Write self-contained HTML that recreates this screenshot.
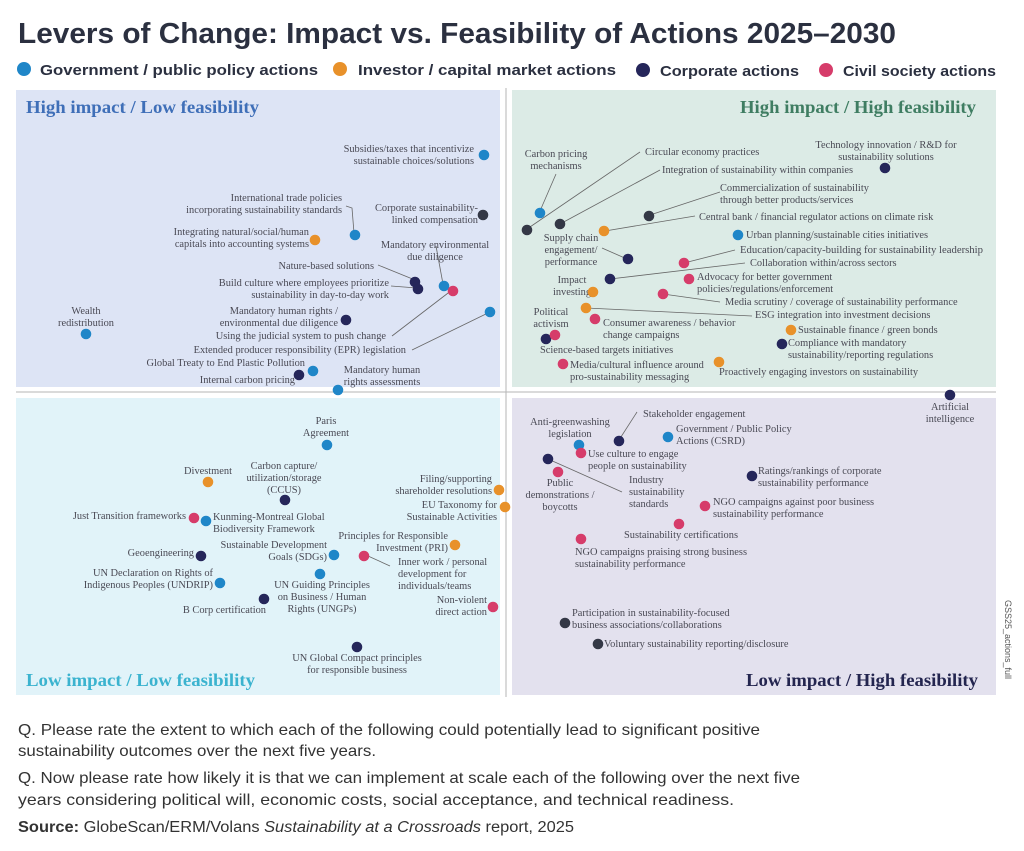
<!DOCTYPE html>
<html><head><meta charset="utf-8"><style>
body{margin:0;background:#fff;width:1024px;height:846px;overflow:hidden}
svg text{font-family:"Liberation Serif",serif;font-size:10.4px;fill:#4a4a55}
</style></head><body>
<svg width="1024" height="846" viewBox="0 0 1024 846" xmlns="http://www.w3.org/2000/svg">
<text x="18" y="43" textLength="878" lengthAdjust="spacingAndGlyphs" style="font-family:'Liberation Sans',sans-serif;font-size:29px;font-weight:bold;fill:#2b3040">Levers of Change: Impact vs. Feasibility of Actions 2025–2030</text>
<circle cx="24" cy="69" r="7" fill="#1f86c8"/><text x="40" y="75" textLength="278" lengthAdjust="spacingAndGlyphs" style="font-family:'Liberation Sans',sans-serif;font-size:15px;font-weight:bold;fill:#2b3040">Government / public policy actions</text>
<circle cx="340" cy="69" r="7" fill="#e8912a"/><text x="358" y="75" textLength="258" lengthAdjust="spacingAndGlyphs" style="font-family:'Liberation Sans',sans-serif;font-size:15px;font-weight:bold;fill:#2b3040">Investor / capital market actions</text>
<circle cx="643" cy="70" r="7" fill="#25265a"/><text x="660" y="76" textLength="139" lengthAdjust="spacingAndGlyphs" style="font-family:'Liberation Sans',sans-serif;font-size:15px;font-weight:bold;fill:#2b3040">Corporate actions</text>
<circle cx="826" cy="70" r="7" fill="#d63c6a"/><text x="843" y="76" textLength="153" lengthAdjust="spacingAndGlyphs" style="font-family:'Liberation Sans',sans-serif;font-size:15px;font-weight:bold;fill:#2b3040">Civil society actions</text>
<rect x="16" y="90" width="484" height="297" fill="#dde4f5"/>
<rect x="512" y="90" width="484" height="297" fill="#dcebe6"/>
<rect x="16" y="398" width="484" height="297" fill="#e1f3f9"/>
<rect x="512" y="398" width="484" height="297" fill="#e3e1ee"/>
<line x1="16" y1="392" x2="996" y2="392" stroke="#b5b5b5" stroke-width="1"/>
<line x1="506" y1="88" x2="506" y2="697" stroke="#b5b5b5" stroke-width="1"/>
<text x="26" y="113" textLength="233" lengthAdjust="spacingAndGlyphs" style="font-size:18px;font-weight:bold;fill:#3f6fb8">High impact / Low feasibility</text>
<text x="740" y="113" textLength="236" lengthAdjust="spacingAndGlyphs" style="font-size:18px;font-weight:bold;fill:#3f7d62">High impact / High feasibility</text>
<text x="26" y="686" textLength="229" lengthAdjust="spacingAndGlyphs" style="font-size:18px;font-weight:bold;fill:#3bb3cf">Low impact / Low feasibility</text>
<text x="746" y="686" textLength="232" lengthAdjust="spacingAndGlyphs" style="font-size:18px;font-weight:bold;fill:#23254f">Low impact / High feasibility</text>
<text x="1005" y="600" transform="rotate(90 1005 600)" style="font-family:'Liberation Sans',sans-serif;font-size:9px;fill:#555">GSS25_actions_full</text>

<g stroke="#666" stroke-width="0.8" fill="none">
<polyline points="346,206 352,208 354,233"/>
<polyline points="378,265 415,280"/>
<polyline points="391,286 417,288"/>
<polyline points="436,246 443,284"/>
<polyline points="392,336 452,290"/>
<polyline points="412,350 490,312"/>
<polyline points="556,174 540,211"/>
<polyline points="527,229 640,152"/>
<polyline points="560,224 660,170"/>
<polyline points="650,215 720,192"/>
<polyline points="605,231 695,216"/>
<polyline points="602,248 627,259"/>
<polyline points="684,263 735,250"/>
<polyline points="610,279 745,263"/>
<polyline points="663,294 720,302"/>
<polyline points="586,308 752,316"/>
<polyline points="619,440 637,412"/>
<polyline points="548,459 622,492"/>
<polyline points="368,556 390,566"/>
</g>

<g>
<text x="474" y="152" text-anchor="end">Subsidies/taxes that incentivize</text>
<text x="474" y="164" text-anchor="end">sustainable choices/solutions</text>
<text x="342" y="201" text-anchor="end">International trade policies</text>
<text x="342" y="213" text-anchor="end">incorporating sustainability standards</text>
<text x="478" y="211" text-anchor="end">Corporate sustainability-</text>
<text x="478" y="223" text-anchor="end">linked compensation</text>
<text x="309" y="235" text-anchor="end">Integrating natural/social/human</text>
<text x="309" y="247" text-anchor="end">capitals into accounting systems</text>
<text x="435" y="248" text-anchor="middle">Mandatory environmental</text>
<text x="435" y="260" text-anchor="middle">due diligence</text>
<text x="374" y="269" text-anchor="end">Nature-based solutions</text>
<text x="389" y="286" text-anchor="end">Build culture where employees prioritize</text>
<text x="389" y="298" text-anchor="end">sustainability in day-to-day work</text>
<text x="86" y="314" text-anchor="middle">Wealth</text>
<text x="86" y="326" text-anchor="middle">redistribution</text>
<text x="338" y="314" text-anchor="end">Mandatory human rights /</text>
<text x="338" y="326" text-anchor="end">environmental due diligence</text>
<text x="386" y="339" text-anchor="end">Using the judicial system to push change</text>
<text x="406" y="353" text-anchor="end">Extended producer responsibility (EPR) legislation</text>
<text x="305" y="366" text-anchor="end">Global Treaty to End Plastic Pollution</text>
<text x="295" y="383" text-anchor="end">Internal carbon pricing</text>
<text x="382" y="373" text-anchor="middle">Mandatory human</text>
<text x="382" y="385" text-anchor="middle">rights assessments</text>

<text x="556" y="157" text-anchor="middle">Carbon pricing</text>
<text x="556" y="169" text-anchor="middle">mechanisms</text>
<text x="645" y="155">Circular economy practices</text>
<text x="662" y="173">Integration of sustainability within companies</text>
<text x="886" y="148" text-anchor="middle">Technology innovation / R&amp;D for</text>
<text x="886" y="160" text-anchor="middle">sustainability solutions</text>
<text x="720" y="191">Commercialization of sustainability</text>
<text x="720" y="203">through better products/services</text>
<text x="699" y="220">Central bank / financial regulator actions on climate risk</text>
<text x="571" y="241" text-anchor="middle">Supply chain</text>
<text x="571" y="253" text-anchor="middle">engagement/</text>
<text x="571" y="265" text-anchor="middle">performance</text>
<text x="746" y="238">Urban planning/sustainable cities initiatives</text>
<text x="740" y="253" textLength="243" lengthAdjust="spacingAndGlyphs">Education/capacity-building for sustainability leadership</text>
<text x="750" y="266">Collaboration within/across sectors</text>
<text x="572" y="283" text-anchor="middle">Impact</text>
<text x="572" y="295" text-anchor="middle">investing</text>
<text x="697" y="280">Advocacy for better government</text>
<text x="697" y="292">policies/regulations/enforcement</text>
<text x="725" y="305">Media scrutiny / coverage of sustainability performance</text>
<text x="755" y="318">ESG integration into investment decisions</text>
<text x="551" y="315" text-anchor="middle">Political</text>
<text x="551" y="327" text-anchor="middle">activism</text>
<text x="603" y="326">Consumer awareness / behavior</text>
<text x="603" y="338">change campaigns</text>
<text x="798" y="333">Sustainable finance / green bonds</text>
<text x="788" y="346">Compliance with mandatory</text>
<text x="788" y="358">sustainability/reporting regulations</text>
<text x="540" y="353">Science-based targets initiatives</text>
<text x="570" y="368">Media/cultural influence around</text>
<text x="570" y="380">pro-sustainability messaging</text>
<text x="719" y="375">Proactively engaging investors on sustainability</text>

<text x="950" y="410" text-anchor="middle">Artificial</text>
<text x="950" y="422" text-anchor="middle">intelligence</text>
<text x="643" y="417">Stakeholder engagement</text>
<text x="570" y="425" text-anchor="middle">Anti-greenwashing</text>
<text x="570" y="437" text-anchor="middle">legislation</text>
<text x="676" y="432">Government / Public Policy</text>
<text x="676" y="444">Actions (CSRD)</text>
<text x="588" y="457">Use culture to engage</text>
<text x="588" y="469">people on sustainability</text>
<text x="629" y="483">Industry</text>
<text x="629" y="495">sustainability</text>
<text x="629" y="507">standards</text>
<text x="560" y="486" text-anchor="middle">Public</text>
<text x="560" y="498" text-anchor="middle">demonstrations /</text>
<text x="560" y="510" text-anchor="middle">boycotts</text>
<text x="758" y="474">Ratings/rankings of corporate</text>
<text x="758" y="486">sustainability performance</text>
<text x="713" y="505">NGO campaigns against poor business</text>
<text x="713" y="517">sustainability performance</text>
<text x="681" y="538" text-anchor="middle">Sustainability certifications</text>
<text x="575" y="555">NGO campaigns praising strong business</text>
<text x="575" y="567">sustainability performance</text>
<text x="572" y="616">Participation in sustainability-focused</text>
<text x="572" y="628">business associations/collaborations</text>
<text x="604" y="647">Voluntary sustainability reporting/disclosure</text>

<text x="326" y="424" text-anchor="middle">Paris</text>
<text x="326" y="436" text-anchor="middle">Agreement</text>
<text x="208" y="474" text-anchor="middle">Divestment</text>
<text x="284" y="469" text-anchor="middle">Carbon capture/</text>
<text x="284" y="481" text-anchor="middle">utilization/storage</text>
<text x="284" y="493" text-anchor="middle">(CCUS)</text>
<text x="492" y="482" text-anchor="end">Filing/supporting</text>
<text x="492" y="494" text-anchor="end">shareholder resolutions</text>
<text x="497" y="508" text-anchor="end">EU Taxonomy for</text>
<text x="497" y="520" text-anchor="end">Sustainable Activities</text>
<text x="186" y="519" text-anchor="end">Just Transition frameworks</text>
<text x="213" y="520">Kunming-Montreal Global</text>
<text x="213" y="532">Biodiversity Framework</text>
<text x="448" y="539" text-anchor="end">Principles for Responsible</text>
<text x="448" y="551" text-anchor="end">Investment (PRI)</text>
<text x="327" y="548" text-anchor="end">Sustainable Development</text>
<text x="327" y="560" text-anchor="end">Goals (SDGs)</text>
<text x="194" y="556" text-anchor="end">Geoengineering</text>
<text x="398" y="565">Inner work / personal</text>
<text x="398" y="577">development for</text>
<text x="398" y="589">individuals/teams</text>
<text x="213" y="576" text-anchor="end">UN Declaration on Rights of</text>
<text x="213" y="588" text-anchor="end">Indigenous Peoples (UNDRIP)</text>
<text x="322" y="588" text-anchor="middle">UN Guiding Principles</text>
<text x="322" y="600" text-anchor="middle">on Business / Human</text>
<text x="322" y="612" text-anchor="middle">Rights (UNGPs)</text>
<text x="487" y="603" text-anchor="end">Non-violent</text>
<text x="487" y="615" text-anchor="end">direct action</text>
<text x="266" y="613" text-anchor="end">B Corp certification</text>
<text x="357" y="661" text-anchor="middle">UN Global Compact principles</text>
<text x="357" y="673" text-anchor="middle">for responsible business</text>
</g>

<g>
<circle cx="484" cy="155" r="5.3" fill="#1f86c8"/>
<circle cx="483" cy="215" r="5.3" fill="#343846"/>
<circle cx="315" cy="240" r="5.3" fill="#e8912a"/>
<circle cx="355" cy="235" r="5.3" fill="#1f86c8"/>
<circle cx="415" cy="282" r="5.3" fill="#25265a"/>
<circle cx="418" cy="289" r="5.3" fill="#25265a"/>
<circle cx="444" cy="286" r="5.3" fill="#1f86c8"/>
<circle cx="453" cy="291" r="5.3" fill="#d63c6a"/>
<circle cx="490" cy="312" r="5.3" fill="#1f86c8"/>
<circle cx="86" cy="334" r="5.3" fill="#1f86c8"/>
<circle cx="346" cy="320" r="5.3" fill="#25265a"/>
<circle cx="299" cy="375" r="5.3" fill="#25265a"/>
<circle cx="313" cy="371" r="5.3" fill="#1f86c8"/>
<circle cx="338" cy="390" r="5.3" fill="#1f86c8"/>
<circle cx="540" cy="213" r="5.3" fill="#1f86c8"/>
<circle cx="527" cy="230" r="5.3" fill="#343846"/>
<circle cx="560" cy="224" r="5.3" fill="#343846"/>
<circle cx="649" cy="216" r="5.3" fill="#343846"/>
<circle cx="604" cy="231" r="5.3" fill="#e8912a"/>
<circle cx="885" cy="168" r="5.3" fill="#25265a"/>
<circle cx="738" cy="235" r="5.3" fill="#1f86c8"/>
<circle cx="628" cy="259" r="5.3" fill="#25265a"/>
<circle cx="684" cy="263" r="5.3" fill="#d63c6a"/>
<circle cx="610" cy="279" r="5.3" fill="#25265a"/>
<circle cx="689" cy="279" r="5.3" fill="#d63c6a"/>
<circle cx="593" cy="292" r="5.3" fill="#e8912a"/>
<circle cx="663" cy="294" r="5.3" fill="#d63c6a"/>
<circle cx="586" cy="308" r="5.3" fill="#e8912a"/>
<circle cx="595" cy="319" r="5.3" fill="#d63c6a"/>
<circle cx="791" cy="330" r="5.3" fill="#e8912a"/>
<circle cx="782" cy="344" r="5.3" fill="#25265a"/>
<circle cx="546" cy="339" r="5.3" fill="#25265a"/>
<circle cx="555" cy="335" r="5.3" fill="#d63c6a"/>
<circle cx="563" cy="364" r="5.3" fill="#d63c6a"/>
<circle cx="719" cy="362" r="5.3" fill="#e8912a"/>
<circle cx="950" cy="395" r="5.3" fill="#25265a"/>
<circle cx="619" cy="441" r="5.3" fill="#25265a"/>
<circle cx="579" cy="445" r="5.3" fill="#1f86c8"/>
<circle cx="668" cy="437" r="5.3" fill="#1f86c8"/>
<circle cx="581" cy="453" r="5.3" fill="#d63c6a"/>
<circle cx="548" cy="459" r="5.3" fill="#25265a"/>
<circle cx="558" cy="472" r="5.3" fill="#d63c6a"/>
<circle cx="752" cy="476" r="5.3" fill="#25265a"/>
<circle cx="705" cy="506" r="5.3" fill="#d63c6a"/>
<circle cx="679" cy="524" r="5.3" fill="#d63c6a"/>
<circle cx="581" cy="539" r="5.3" fill="#d63c6a"/>
<circle cx="565" cy="623" r="5.3" fill="#343846"/>
<circle cx="598" cy="644" r="5.3" fill="#343846"/>
<circle cx="327" cy="445" r="5.3" fill="#1f86c8"/>
<circle cx="208" cy="482" r="5.3" fill="#e8912a"/>
<circle cx="285" cy="500" r="5.3" fill="#25265a"/>
<circle cx="499" cy="490" r="5.3" fill="#e8912a"/>
<circle cx="505" cy="507" r="5.3" fill="#e8912a"/>
<circle cx="194" cy="518" r="5.3" fill="#d63c6a"/>
<circle cx="206" cy="521" r="5.3" fill="#1f86c8"/>
<circle cx="455" cy="545" r="5.3" fill="#e8912a"/>
<circle cx="334" cy="555" r="5.3" fill="#1f86c8"/>
<circle cx="364" cy="556" r="5.3" fill="#d63c6a"/>
<circle cx="201" cy="556" r="5.3" fill="#25265a"/>
<circle cx="320" cy="574" r="5.3" fill="#1f86c8"/>
<circle cx="220" cy="583" r="5.3" fill="#1f86c8"/>
<circle cx="264" cy="599" r="5.3" fill="#25265a"/>
<circle cx="493" cy="607" r="5.3" fill="#d63c6a"/>
<circle cx="357" cy="647" r="5.3" fill="#25265a"/>
</g>

<g style="font-family:'Liberation Sans',sans-serif">
<text x="18" y="735" textLength="742" lengthAdjust="spacingAndGlyphs" style="font-family:'Liberation Sans',sans-serif;font-size:16px;fill:#333">Q. Please rate the extent to which each of the following could potentially lead to significant positive</text>
<text x="18" y="756" textLength="358" lengthAdjust="spacingAndGlyphs" style="font-family:'Liberation Sans',sans-serif;font-size:16px;fill:#333">sustainability outcomes over the next five years.</text>
<text x="18" y="783" textLength="782" lengthAdjust="spacingAndGlyphs" style="font-family:'Liberation Sans',sans-serif;font-size:16px;fill:#333">Q. Now please rate how likely it is that we can implement at scale each of the following over the next five</text>
<text x="18" y="805" textLength="716" lengthAdjust="spacingAndGlyphs" style="font-family:'Liberation Sans',sans-serif;font-size:16px;fill:#333">years considering political will, economic costs, social acceptance, and technical readiness.</text>
<text x="18" y="832" textLength="556" lengthAdjust="spacingAndGlyphs" style="font-family:'Liberation Sans',sans-serif;font-size:15.5px;fill:#333"><tspan style="font-weight:bold">Source:</tspan> GlobeScan/ERM/Volans <tspan style="font-style:italic">Sustainability at a Crossroads</tspan> report, 2025</text>
</g>
</svg>
</body></html>
